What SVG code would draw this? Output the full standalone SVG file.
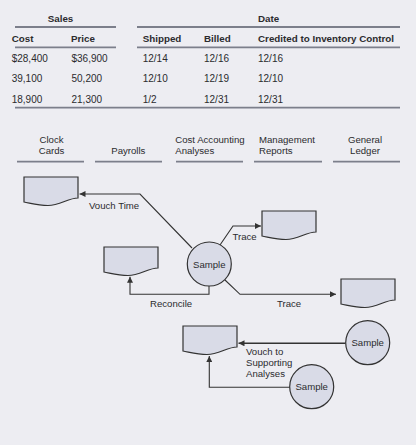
<svg xmlns="http://www.w3.org/2000/svg" width="416" height="445" viewBox="0 0 416 445">
<style>
text{font-family:"Liberation Sans",Arial,sans-serif;fill:#2b2b2e}
.h{font-weight:bold;font-size:9.8px}
.d{font-size:10px}
.l{font-size:9.6px}
.m{text-anchor:middle}
.rule{stroke:#7c7f8b;stroke-width:1.8;fill:none}
.doc{fill:#d9dbe7;stroke:#333;stroke-width:1.2}
.circ{fill:#d9dbe7;stroke:#333;stroke-width:1.2}
.con{fill:none;stroke:#333;stroke-width:1.1;marker-end:url(#ah)}
</style>
<defs>
<marker id="ah" viewBox="0 0 10 10" refX="10" refY="5" markerWidth="6" markerHeight="6" markerUnits="userSpaceOnUse" orient="auto"><path d="M0,0 L10,5 L0,10 Z" fill="#333"/></marker>
<path id="docshape" d="M0,0 H54 V21 C44,21 36,28.5 24,28.5 C14,28.5 6,26 0,25 Z"/>
</defs>
<rect width="416" height="445" fill="#ededf2"/>
<g id="table">
<text class="h" x="60.5" y="21.5" text-anchor="middle">Sales</text>
<text class="h" x="258" y="21.5">Date</text>
<line class="rule" x1="15" y1="27" x2="116" y2="27"/>
<line class="rule" x1="137" y1="27" x2="400" y2="27"/>
<text class="h" x="11.7" y="42">Cost</text>
<text class="h" x="71" y="42">Price</text>
<text class="h" x="142.7" y="42">Shipped</text>
<text class="h" x="204" y="42">Billed</text>
<text class="h" x="258" y="42">Credited to Inventory Control</text>
<line class="rule" x1="15" y1="47.3" x2="116" y2="47.3"/>
<line class="rule" x1="137" y1="47.3" x2="400" y2="47.3"/>
<text class="d" x="11.7" y="62">$28,400</text>
<text class="d" x="71.5" y="62">$36,900</text>
<text class="d" x="142.7" y="62">12/14</text>
<text class="d" x="204" y="62">12/16</text>
<text class="d" x="258" y="62">12/16</text>
<text class="d" x="11.7" y="82">39,100</text>
<text class="d" x="71.5" y="82">50,200</text>
<text class="d" x="142.7" y="82">12/10</text>
<text class="d" x="204" y="82">12/19</text>
<text class="d" x="258" y="82">12/10</text>
<text class="d" x="11.7" y="102.5">18,900</text>
<text class="d" x="71.5" y="102.5">21,300</text>
<text class="d" x="142.7" y="102.5">1/2</text>
<text class="d" x="204" y="102.5">12/31</text>
<text class="d" x="258" y="102.5">12/31</text>
<line class="rule" x1="15" y1="107.7" x2="400" y2="107.7"/>
</g>
<g id="columns">
<text class="l m" x="51.5" y="142.5">Clock</text>
<text class="l m" x="51.5" y="154">Cards</text>
<line class="rule" x1="17" y1="161.7" x2="84" y2="161.7"/>
<text class="l m" x="128.3" y="154">Payrolls</text>
<line class="rule" x1="95" y1="161.7" x2="162" y2="161.7"/>
<text class="l" x="175.3" y="142.5">Cost Accounting</text>
<text class="l" x="175.3" y="154">Analyses</text>
<line class="rule" x1="176" y1="161.7" x2="243" y2="161.7"/>
<text class="l" x="259" y="142.5">Management</text>
<text class="l" x="259" y="154">Reports</text>
<line class="rule" x1="254" y1="161.7" x2="322" y2="161.7"/>
<text class="l m" x="365" y="142.5">General</text>
<text class="l m" x="365" y="154">Ledger</text>
<line class="rule" x1="333" y1="161.7" x2="400" y2="161.7"/>
</g>
<g id="connectors">
<polyline class="con" points="192,248 140,194 79.5,194"/>
<polyline class="con" points="220,245 233,226 261,226"/>
<polyline class="con" points="209,286 209,294.3 130,294.3 130,276.7"/>
<polyline class="con" points="225,280 240,294.3 336,294.3"/>
<polyline class="con" style="stroke-width:1.6" points="345.5,343.3 238.5,343.3"/>
<polyline class="con" points="290,387.3 209.3,387.3 209.3,356"/>
<text class="l" x="89" y="208.5">Vouch Time</text>
<text class="l" x="232.5" y="240">Trace</text>
<text class="l" x="150" y="306.5">Reconcile</text>
<text class="l" x="277" y="307">Trace</text>
<text class="l" x="246" y="354.5">Vouch to</text>
<text class="l" x="246" y="365.8">Supporting</text>
<text class="l" x="246" y="377">Analyses</text>
</g>
<g id="doc1"><use href="#docshape" class="doc" x="24" y="177"/></g>
<g id="doc2"><use href="#docshape" class="doc" x="262" y="211"/></g>
<g id="doc3"><use href="#docshape" class="doc" x="104" y="247"/></g>
<g id="doc4"><use href="#docshape" class="doc" x="341" y="279"/></g>
<g id="doc5"><use href="#docshape" class="doc" x="183" y="326"/></g>
<g id="sample1"><circle class="circ" cx="209.3" cy="264" r="22"/><text class="l m" x="209.3" y="267.5">Sample</text></g>
<g id="sample2"><circle class="circ" cx="367.7" cy="342.7" r="22"/><text class="l m" x="367.7" y="346.2">Sample</text></g>
<g id="sample3"><circle class="circ" cx="311.7" cy="386.7" r="22"/><text class="l m" x="311.7" y="390.2">Sample</text></g>
</svg>
